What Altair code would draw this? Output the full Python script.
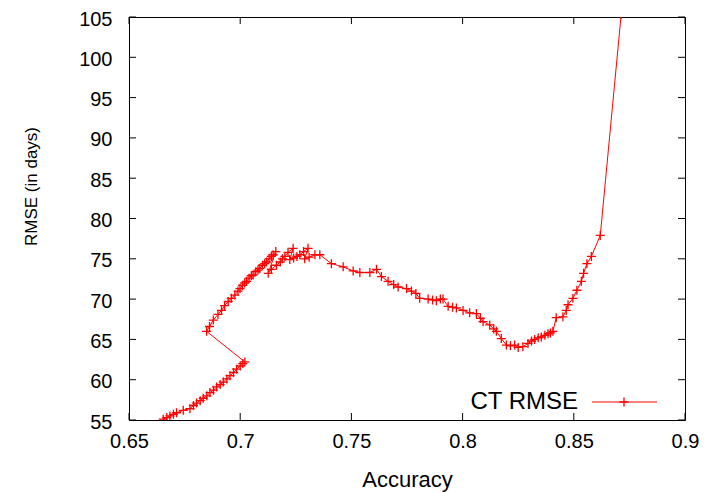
import altair as alt
import pandas as pd

# ---- data (accuracy, RMSE in days), in file order ----
acc_seg1 = [0.6654, 0.6670, 0.6684, 0.6700, 0.6714, 0.6744, 0.6774, 0.6790, 0.6804, 0.6820,
            0.6834, 0.6850, 0.6864, 0.6880, 0.6894, 0.6910, 0.6924, 0.6940, 0.6954, 0.6970,
            0.6984, 0.7000, 0.7012, 0.7021]
rmse_seg1 = [55.1, 55.3, 55.5, 55.7, 55.9, 56.2, 56.4, 56.8, 57.1, 57.4,
             57.7, 58.0, 58.4, 58.7, 59.1, 59.4, 59.7, 60.1, 60.5, 60.9,
             61.3, 61.7, 62.0, 62.2]

acc_seg2 = [0.6849, 0.6862, 0.6879, 0.6900, 0.6916, 0.6930, 0.6946, 0.6960, 0.6976, 0.6990,
            0.6999, 0.7010, 0.7020, 0.7029, 0.7040, 0.7050, 0.7058, 0.7070, 0.7080, 0.7088,
            0.7100, 0.7110, 0.7119, 0.7130, 0.7140, 0.7148, 0.7160]
rmse_seg2 = [66.0, 66.6, 67.4, 68.1, 68.6, 69.2, 69.7, 70.1, 70.5, 71.0,
             71.3, 71.7, 72.0, 72.2, 72.6, 72.9, 73.0, 73.4, 73.6, 73.8,
             74.2, 74.4, 74.6, 75.0, 75.3, 75.5, 75.9]

acc_seg3 = [0.7126, 0.7140, 0.7163, 0.7180, 0.7190, 0.7201, 0.7215, 0.7238]
rmse_seg3 = [73.2, 73.7, 74.2, 74.6, 75.0, 75.3, 75.8, 76.3]

acc_seg4 = [0.7223, 0.7240, 0.7255, 0.7268, 0.7285, 0.7305]
rmse_seg4 = [74.9, 75.1, 75.3, 75.5, 75.9, 76.3]

acc_seg5 = [0.7290, 0.7310, 0.7336, 0.7358]
rmse_seg5 = [75.0, 75.2, 75.5, 75.5]

acc_seg6 = [0.7410, 0.7463, 0.7508, 0.7538, 0.7583, 0.7613, 0.7635, 0.7665, 0.7690, 0.7710,
            0.7748, 0.7770, 0.7790, 0.7807, 0.7845, 0.7865, 0.7882, 0.7900, 0.7912, 0.7935,
            0.7955, 0.7972, 0.8002, 0.8032, 0.8062, 0.8080, 0.8092, 0.8122, 0.8140, 0.8152,
            0.8174, 0.8197, 0.8215, 0.8234, 0.8250, 0.8271, 0.8294, 0.8310, 0.8324, 0.8340,
            0.8354, 0.8370, 0.8384, 0.8395, 0.8406, 0.8421, 0.8451, 0.8466, 0.8474, 0.8496,
            0.8514, 0.8534, 0.8544, 0.8559, 0.8579, 0.8619, 0.8713]
rmse_seg6 = [74.4, 74.0, 73.5, 73.3, 73.3, 73.7, 72.8, 72.2, 71.8, 71.5,
             71.3, 71.0, 70.7, 70.1, 70.0, 69.9, 69.8, 70.0, 70.0, 69.1,
             69.0, 68.9, 68.6, 68.3, 68.2, 67.6, 67.2, 66.8, 66.3, 66.0,
             65.1, 64.3, 64.2, 64.3, 64.0, 64.1, 64.5, 64.8, 65.0, 65.2,
             65.3, 65.5, 65.7, 65.8, 66.0, 67.7, 67.8, 68.6, 69.3, 70.1,
             71.1, 72.2, 73.2, 74.4, 75.3, 77.9, 105.3]

x_ticks = [0.65, 0.7, 0.75, 0.8, 0.85, 0.9]
y_ticks = [55, 60, 65, 70, 75, 80, 85, 90, 95, 100, 105]
legend_label = ["CT RMSE"]

acc = acc_seg1 + acc_seg2 + acc_seg3 + acc_seg4 + acc_seg5 + acc_seg6
rmse = rmse_seg1 + rmse_seg2 + rmse_seg3 + rmse_seg4 + rmse_seg5 + rmse_seg6
df = pd.DataFrame({"acc": acc, "rmse": rmse, "i": list(range(len(acc)))})
xt = pd.DataFrame({"acc": x_ticks})
yt = pd.DataFrame({"rmse": y_ticks})
leg = pd.DataFrame({"t": legend_label})

W, H = 556, 403
RED = "#ff0000"
FONT = "Liberation Sans"
PLUS = "M-1,0L1,0M0,-1L0,1"

xscale = alt.Scale(domain=[0.65, 0.9], nice=False, zero=False)
yscale = alt.Scale(domain=[55, 105], nice=False, zero=False)

xaxis = alt.Axis(values=x_ticks, format="~g", title="Accuracy", grid=False, ticks=False,
                 domain=False, labelFont=FONT, labelFontSize=20, labelColor="black",
                 labelPadding=11, labelFlush=False, titleFont=FONT, titleFontSize=22,
                 titleFontWeight="normal", titleColor="black", titleX=278, titleY=66,
                 titleBaseline="alphabetic", titleAlign="center")
yaxis = alt.Axis(values=y_ticks, format="d", title="RMSE (in days)", grid=False, ticks=False,
                 domain=False, labelFont=FONT, labelFontSize=20, labelColor="black",
                 labelPadding=17, labelOffset=2, labelFlush=False, titleFont=FONT,
                 titleFontSize=17, titleFontWeight="normal", titleColor="black",
                 titleX=-98, titleY=169, titleAngle=270, titleBaseline="middle",
                 titleAlign="center")

X = alt.X("acc:Q", scale=xscale, axis=xaxis, title="Accuracy")
Y = alt.Y("rmse:Q", scale=yscale, axis=yaxis, title="RMSE (in days)")

line = alt.Chart(df).mark_line(color=RED, strokeWidth=1, clip=True).encode(
    x=X, y=Y, order="i:Q",
)
pts = alt.Chart(df).mark_point(shape=PLUS, size=81, filled=False, color=RED,
                               strokeWidth=1.3, opacity=1, clip=True).encode(x=X, y=Y)

# inward ticks on all four sides (gnuplot style)
tick_len = 7
xb = alt.Chart(xt).mark_rule(color="black", strokeWidth=1).encode(
    x=X, y=alt.value(H), y2=alt.value(H - tick_len))
xtop = alt.Chart(xt).mark_rule(color="black", strokeWidth=1).encode(
    x=X, y=alt.value(0), y2=alt.value(tick_len))
yl = alt.Chart(yt).mark_rule(color="black", strokeWidth=1).encode(
    y=Y, x=alt.value(0), x2=alt.value(tick_len))
yr = alt.Chart(yt).mark_rule(color="black", strokeWidth=1).encode(
    y=Y, x=alt.value(W), x2=alt.value(W - tick_len))

# legend (gnuplot style: label left of the sample)
leg_text = alt.Chart(leg).mark_text(align="right", baseline="middle", font=FONT,
                                    fontSize=24, color="black").encode(
    text="t:N", x=alt.value(449), y=alt.value(385))
leg_line = alt.Chart(leg).mark_rule(color=RED, strokeWidth=1).encode(
    x=alt.value(463), x2=alt.value(528), y=alt.value(385))
leg_pt = alt.Chart(leg).mark_point(shape=PLUS, size=81, filled=False, color=RED,
                                   strokeWidth=1.3, opacity=1).encode(
    x=alt.value(495), y=alt.value(385))

chart = alt.layer(line, pts, xb, xtop, yl, yr, leg_text, leg_line, leg_pt).properties(
    width=W, height=H,
    autosize=alt.AutoSizeParams(type="none"),
    padding={"left": 129, "top": 17, "right": 32, "bottom": 72},
    background="white",
).configure_view(stroke="black", strokeWidth=1)

chart.save("out.html", embed_options={"renderer": "svg", "actions": False})
